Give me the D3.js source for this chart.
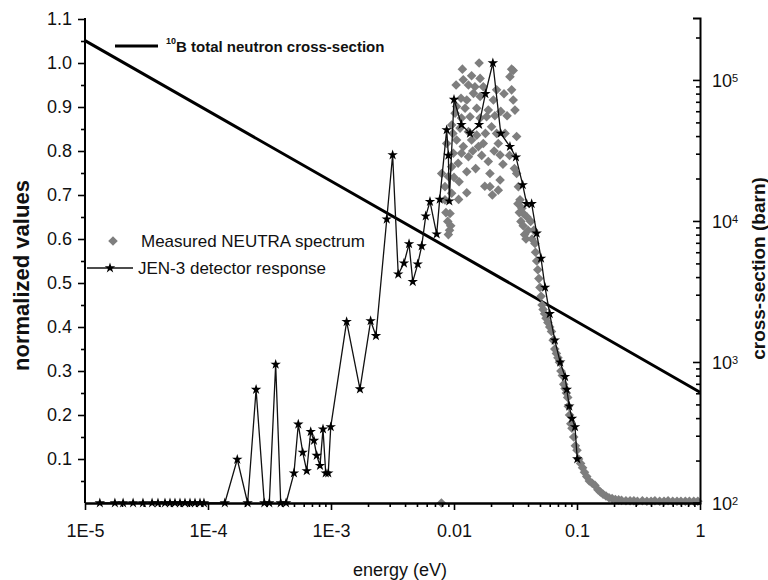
<!DOCTYPE html>
<html>
<head>
<meta charset="utf-8">
<script src="https://cdn.jsdelivr.net/npm/d3@7"></script>
<style>
  body { margin: 0; background: #fff; }
  svg text { font-family: "Liberation Sans", Arial, sans-serif; fill: #111; }
</style>
</head>
<body>
<div id="chart"></div>
<script>
// Tick values / labels
const X_TICKS = [1e-5, 1e-4, 1e-3, 0.01, 0.1, 1];
const X_TICK_LABELS = ['1E-5', '1E-4', '1E-3', '0.01', '0.1', '1'];
const Y_TICKS = [0.1, 0.2, 0.3, 0.4, 0.5, 0.6, 0.7, 0.8, 0.9, 1.0, 1.1];
const Y_MINOR = [0.05, 0.15, 0.25, 0.35, 0.45, 0.55, 0.65, 0.75, 0.85, 0.95, 1.05];
const CS_EXPONENTS = [2, 3, 4, 5];

// 10B total cross-section (barn) vs energy (eV)
const crossSection = [[1e-5, 1.9e5], [0.0253, 3840], [1, 610]];

// JEN-3 detector response [energy eV, normalized]
const detector = [
  [1.32e-5, 0], [1.75e-5, 0], [2.04e-5, 0], [2.46e-5, 0], [2.96e-5, 0], [3.51e-5, 0],
  [3.92e-5, 0], [4.47e-5, 0], [4.91e-5, 0], [5.39e-5, 0], [5.92e-5, 0], [6.50e-5, 0],
  [7.14e-5, 0], [7.84e-5, 0], [8.61e-5, 0], [9.27e-5, 0],
  [1.37e-4, 0], [1.73e-4, 0.099], [2.10e-4, 0], [2.46e-4, 0.258], [2.87e-4, 0], [3.15e-4, 0],
  [3.55e-4, 0.315], [3.90e-4, 0], [4.31e-4, 0], [5.0e-4, 0.068], [5.42e-4, 0.179],
  [5.89e-4, 0.115], [6.35e-4, 0.073], [6.84e-4, 0.162], [7.27e-4, 0.142], [7.65e-4, 0.108],
  [8.14e-4, 0.085], [8.61e-4, 0.168], [9.06e-4, 0.068], [9.5e-4, 0.068], [9.95e-4, 0.173],
  [1.34e-3, 0.412], [1.72e-3, 0.259], [2.10e-3, 0.414], [2.32e-3, 0.38], [2.84e-3, 0.645],
  [3.17e-3, 0.791], [3.52e-3, 0.52], [3.92e-3, 0.545], [4.31e-3, 0.589], [4.62e-3, 0.503],
  [5.07e-3, 0.543], [5.46e-3, 0.584], [5.89e-3, 0.652], [6.38e-3, 0.685], [7.23e-3, 0.611],
  [7.65e-3, 0.69], [8.72e-3, 0.848], [9.0e-3, 0.79], [9.16e-3, 0.686], [0.0100, 0.917],
  [0.0115, 0.86], [0.0135, 0.84], [0.016, 0.86], [0.018, 0.93], [0.0207, 1.0], [0.024, 0.84],
  [0.0285, 0.81], [0.0319, 0.786], [0.0362, 0.723], [0.039, 0.68], [0.0428, 0.68],
  [0.047, 0.613], [0.051, 0.556], [0.055, 0.49], [0.060, 0.43], [0.066, 0.37], [0.073, 0.32],
  [0.080, 0.287], [0.0826, 0.258], [0.0865, 0.22], [0.091, 0.192], [0.0963, 0.173], [0.1005, 0.10]
];

// Measured NEUTRA spectrum [energy eV, normalized]
const neutra = [
  [0.0079, 0.0],
  [0.0160, 1.00], [0.0117, 0.986], [0.0294, 0.986], [0.0285, 0.969], [0.0303, 0.983],
  [0.0139, 0.971], [0.0163, 0.965], [0.0119, 0.962], [0.0131, 0.950], [0.0148, 0.946],
  [0.0173, 0.946], [0.0144, 0.931], [0.0163, 0.924], [0.0114, 0.920], [0.0127, 0.916],
  [0.0209, 0.916], [0.0222, 0.939], [0.0294, 0.939], [0.0303, 0.916], [0.0313, 0.893],
  [0.0105, 0.901], [0.0123, 0.897], [0.0153, 0.897], [0.0190, 0.893], [0.0184, 0.878],
  [0.0102, 0.886], [0.0115, 0.875], [0.0135, 0.878], [0.0163, 0.875], [0.0202, 0.855],
  [0.0222, 0.840], [0.0260, 0.840], [0.0323, 0.833], [0.00957, 0.859], [0.0112, 0.852],
  [0.0131, 0.844], [0.0153, 0.836], [0.0105, 0.825], [0.0119, 0.810], [0.0139, 0.825],
  [0.0173, 0.817], [0.0229, 0.817], [0.00872, 0.817], [0.00988, 0.795], [0.0115, 0.795],
  [0.0131, 0.787], [0.00957, 0.764], [0.0108, 0.772], [0.0190, 0.776], [0.0237, 0.791],
  [0.00794, 0.749], [0.00899, 0.742], [0.0127, 0.753], [0.0196, 0.749], [0.0237, 0.734],
  [0.0196, 0.719], [0.00845, 0.719], [0.00957, 0.704], [0.0127, 0.705], [0.0229, 0.711],
  [0.00845, 0.689], [0.00928, 0.658], [0.0323, 0.749], [0.0334, 0.719], [0.0344, 0.689],
  [0.0366, 0.658],
  [0.0100, 0.74], [0.0110, 0.73], [0.0142, 0.80], [0.0158, 0.81], [0.0168, 0.79],
  [0.0180, 0.84], [0.0212, 0.80], [0.0250, 0.77], [0.0270, 0.88], [0.0255, 0.93],
  [0.0215, 0.88], [0.0240, 0.89], [0.0283, 0.79], [0.0310, 0.76], [0.0098, 0.84],
  [0.0104, 0.95], [0.0109, 0.69], [0.0150, 0.76], [0.0178, 0.72], [0.0205, 0.70],
  [0.0086, 0.66], [0.0089, 0.64], [0.0092, 0.62], [0.0090, 0.61], [0.0094, 0.63],
  [0.0331, 0.68], [0.0340, 0.66], [0.0357, 0.67], [0.0350, 0.64], [0.0365, 0.63],
  [0.0375, 0.61], [0.0392, 0.65], [0.0385, 0.60], [0.0400, 0.62], [0.0420, 0.64],
  [0.0431, 0.60], [0.0445, 0.62], [0.0455, 0.59],
  [0.0460, 0.57], [0.0470, 0.55], [0.0480, 0.53], [0.0490, 0.51], [0.0500, 0.49],
  [0.0510, 0.47], [0.0520, 0.45], [0.0530, 0.44], [0.0545, 0.43], [0.0560, 0.42],
  [0.0580, 0.41], [0.0600, 0.40], [0.0620, 0.39], [0.0640, 0.37], [0.0660, 0.35],
  [0.0680, 0.34], [0.0700, 0.33], [0.0720, 0.32], [0.0740, 0.30], [0.0760, 0.29],
  [0.0780, 0.27], [0.0800, 0.26], [0.0820, 0.25], [0.0840, 0.24], [0.0850, 0.22],
  [0.0870, 0.20], [0.0890, 0.18], [0.0910, 0.17], [0.0940, 0.15], [0.0970, 0.13],
  [0.1000, 0.12], [0.1030, 0.10], [0.1070, 0.09], [0.1110, 0.08], [0.115, 0.07],
  [0.120, 0.06], [0.126, 0.05], [0.133, 0.045], [0.140, 0.04], [0.148, 0.03],
  [0.155, 0.025], [0.163, 0.02], [0.172, 0.016], [0.182, 0.012], [0.193, 0.010],
  [0.205, 0.008], [0.218, 0.007], [0.23, 0.006], [0.25, 0.005], [0.27, 0.005],
  [0.29, 0.005], [0.31, 0.004], [0.34, 0.005], [0.37, 0.004], [0.40, 0.004],
  [0.43, 0.005], [0.47, 0.004], [0.51, 0.004], [0.55, 0.005], [0.60, 0.004],
  [0.65, 0.004], [0.70, 0.004], [0.76, 0.004], [0.82, 0.004], [0.89, 0.004], [0.96, 0.004]
];

const W = 768, H = 580;
const PLOT = { left: 85, right: 700, top: 18, bottom: 503 };
const GREY = '#7e7e7e';

const svg = d3.select('#chart').append('svg')
  .attr('width', W).attr('height', H);

const x = d3.scaleLog().domain([1e-5, 1]).range([PLOT.left, PLOT.right]);
const y = d3.scaleLinear().domain([0, 1.1]).range([PLOT.bottom, 19]);
const yR = d3.scaleLog().domain([100, 2.75e5]).range([PLOT.bottom, PLOT.top]);

// minor tick values for log axes
const xMinor = [];
X_TICKS.slice(0, -1).forEach(d => { for (let k = 2; k <= 9; k++) xMinor.push(d * k); });
const rMinor = [];
CS_EXPONENTS.forEach(e => {
  for (let k = 2; k <= 9; k++) { const v = k * Math.pow(10, e); if (v <= yR.domain()[1]) rMinor.push(v); }
});

// Cross-section line (drawn first, under the data)
svg.append('path')
  .datum(crossSection)
  .attr('fill', 'none')
  .attr('stroke', '#000')
  .attr('stroke-width', 3)
  .attr('d', d3.line().x(d => x(d[0])).y(d => yR(d[1])));

// Measured spectrum: grey diamonds
const diamond = d3.symbol(d3.symbolSquare).size(46);
svg.append('g')
  .selectAll('path')
  .data(neutra)
  .join('path')
  .attr('d', diamond)
  .attr('transform', d => `translate(${x(d[0])},${y(d[1])}) rotate(45)`)
  .attr('fill', GREY);

// Detector response: line + stars
svg.append('path')
  .datum(detector)
  .attr('fill', 'none')
  .attr('stroke', '#111')
  .attr('stroke-width', 1.3)
  .attr('d', d3.line().x(d => x(d[0])).y(d => y(d[1])));

const star = d3.symbol(d3.symbolStar).size(34);
svg.append('g')
  .selectAll('path')
  .data(detector)
  .join('path')
  .attr('d', star)
  .attr('transform', d => `translate(${x(d[0])},${y(d[1])})`)
  .attr('fill', '#000');

// Axes
function styleAxis(g) {
  g.select('.domain').attr('stroke', '#000').attr('stroke-width', 2);
  g.selectAll('.tick line').attr('stroke', '#000').attr('stroke-width', 1.6);
}

svg.append('g')
  .attr('transform', `translate(0,${PLOT.bottom})`)
  .call(d3.axisBottom(x).tickValues(xMinor).tickSize(4).tickSizeOuter(0).tickFormat(''))
  .call(styleAxis);

svg.append('g')
  .attr('transform', `translate(0,${PLOT.bottom})`)
  .call(d3.axisBottom(x).tickValues(X_TICKS).tickSize(7).tickSizeOuter(0)
    .tickPadding(14).tickFormat((d, i) => X_TICK_LABELS[i]))
  .call(styleAxis)
  .call(g => g.selectAll('text').attr('font-size', 18).attr('fill', '#111'));

svg.append('g')
  .attr('transform', `translate(${PLOT.left},0)`)
  .call(d3.axisLeft(y).tickValues(Y_MINOR).tickSize(4).tickSizeOuter(0).tickFormat(''))
  .call(styleAxis)
  .call(g => g.select('.domain').attr('d', `M0,${PLOT.bottom}V${PLOT.top}`));

svg.append('g')
  .attr('transform', `translate(${PLOT.left},0)`)
  .call(d3.axisLeft(y).tickValues(Y_TICKS).tickSize(7).tickSizeOuter(0)
    .tickPadding(6).tickFormat(d3.format('.1f')))
  .call(styleAxis)
  .call(g => g.select('.domain').remove())
  .call(g => g.selectAll('text').attr('font-size', 18).attr('fill', '#111'));

// Right axis: ticks point inward (left)
svg.append('g')
  .attr('transform', `translate(${PLOT.right},0)`)
  .call(d3.axisRight(yR).tickValues(rMinor).tickSize(-4).tickSizeOuter(-7).tickFormat(''))
  .call(styleAxis);

const rMajor = svg.append('g')
  .attr('transform', `translate(${PLOT.right},0)`)
  .call(d3.axisRight(yR).tickValues(CS_EXPONENTS.map(e => Math.pow(10, e)))
    .tickSize(-7).tickSizeOuter(0).tickPadding(12).tickFormat(''))
  .call(styleAxis)
  .call(g => g.select('.domain').remove());

rMajor.selectAll('.tick text').each(function (d) {
  const t = d3.select(this).attr('font-size', 18).attr('fill', '#111').attr('dy', '0.35em');
  t.append('tspan').text('10');
  t.append('tspan').attr('font-size', 11).attr('dy', '-0.45em').text(Math.round(Math.log10(d)));
});

// Axis titles
svg.append('text')
  .attr('transform', `translate(29,${(PLOT.top + PLOT.bottom) / 2 + 15}) rotate(-90)`)
  .attr('text-anchor', 'middle')
  .attr('font-size', 22)
  .attr('font-weight', 'bold')
  .text('normalized values');

svg.append('text')
  .attr('transform', `translate(765,${(PLOT.top + PLOT.bottom) / 2 + 8}) rotate(-90)`)
  .attr('text-anchor', 'middle')
  .attr('font-size', 19)
  .attr('font-weight', 'bold')
  .text('cross-section (barn)');

svg.append('text')
  .attr('x', 400).attr('y', 576)
  .attr('text-anchor', 'middle')
  .attr('font-size', 18)
  .text('energy (eV)');

// Legend: cross-section
svg.append('line')
  .attr('x1', 115).attr('x2', 158).attr('y1', 46).attr('y2', 46)
  .attr('stroke', '#000').attr('stroke-width', 3);
const csLabel = svg.append('text')
  .attr('x', 166).attr('y', 51)
  .attr('font-size', 15)
  .attr('font-weight', 'bold');
csLabel.append('tspan').attr('font-size', 9).attr('dy', '-0.8em').text('10');
csLabel.append('tspan').attr('dy', '0.55em').text('B total neutron cross-section');

// Legend: measured + detector
svg.append('path')
  .attr('d', diamond)
  .attr('transform', 'translate(113,241) rotate(45)')
  .attr('fill', GREY);
svg.append('text')
  .attr('x', 141).attr('y', 247)
  .attr('font-size', 17)
  .text('Measured NEUTRA spectrum');

svg.append('line')
  .attr('x1', 87).attr('x2', 133).attr('y1', 268).attr('y2', 268)
  .attr('stroke', '#111').attr('stroke-width', 1.3);
svg.append('path')
  .attr('d', star)
  .attr('transform', 'translate(110,268)')
  .attr('fill', '#000');
svg.append('text')
  .attr('x', 138).attr('y', 274)
  .attr('font-size', 17)
  .text('JEN-3 detector response');
</script>
</body>
</html>
